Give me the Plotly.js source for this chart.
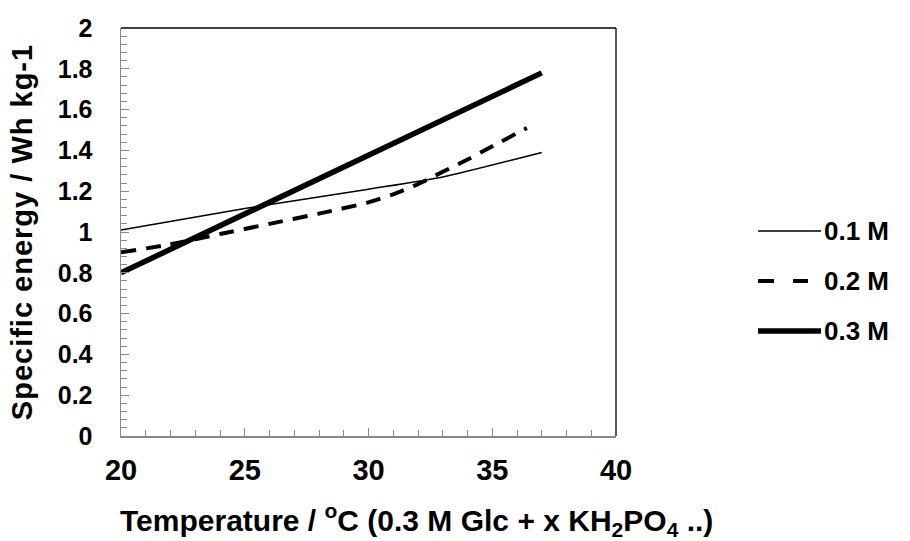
<!DOCTYPE html>
<html><head><meta charset="utf-8">
<script src="https://cdn.plot.ly/plotly-3.0.1.min.js"></script>
<style>html,body{margin:0;padding:0;background:#fff}#chart{width:910px;height:541px}
.g-ytitle text{letter-spacing:1px}
</style>
</head><body><div id="chart"></div>
<script>
const seriesNames = ['0.1 M', '0.2 M', '0.3 M'];
const temp01 = [20, 25, 30, 33, 37];
const energy01 = [1.01, 1.115, 1.21, 1.27, 1.39];
const temp02 = [20, 22, 24, 26, 28, 30, 31, 32, 33, 34, 35, 36.4];
const energy02 = [0.90, 0.94, 0.99, 1.04, 1.09, 1.145, 1.185, 1.235, 1.295, 1.355, 1.42, 1.51];
const temp03 = [20, 37];
const energy03 = [0.80, 1.78];
const xTicks = [20, 25, 30, 35, 40];
const yTicks = [0, 0.2, 0.4, 0.6, 0.8, 1, 1.2, 1.4, 1.6, 1.8, 2];
const xTitle = 'Temperature / <sup>o</sup>C (0.3 M Glc + x KH<sub>2</sub>PO<sub>4</sub> ..)';
const yTitle = 'Specific energy / Wh kg-1';

const fam = 'Liberation Sans, Arial, sans-serif';
const lineStyles = [
  {color: '#000', width: 1.5, shape: 'spline', smoothing: 0.6},
  {color: '#000', width: 4, dash: '15px,10px', shape: 'spline', smoothing: 0.6},
  {color: '#000', width: 5.5}
];
const legendDash = [null, '16px,19px', null];
const traces = [
  {x: temp01, y: energy01, name: seriesNames[0], mode: 'lines', line: lineStyles[0]},
  {x: temp02, y: energy02, name: seriesNames[1], mode: 'lines', line: lineStyles[1]},
  {x: temp03, y: energy03, name: seriesNames[2], mode: 'lines', line: lineStyles[2]}
];

// paper coords relative to plot area (x 121..616, y 28..436)
const px = v => (v - 121) / 495;
const py = v => (436 - v) / 408;
const legendY = [231, 281, 331];
const shapes = [
  {type: 'line', xref: 'paper', yref: 'paper', x0: 0, x1: 1, y0: 1, y1: 1, line: {color: '#000', width: 1.5}},
  {type: 'line', xref: 'paper', yref: 'paper', x0: 1, x1: 1, y0: 0, y1: 1, line: {color: '#222', width: 1.5}}
];
const annotations = [
  {xref: 'paper', yref: 'paper', x: px(416), y: py(520), xanchor: 'center', yanchor: 'middle', showarrow: false, text: xTitle, font: {family: fam, size: 30, weight: 'bold', color: '#000'}}
];
seriesNames.forEach((n, i) => {
  const ls = {color: lineStyles[i].color, width: lineStyles[i].width};
  if (legendDash[i]) ls.dash = legendDash[i];
  shapes.push({type: 'line', xref: 'paper', yref: 'paper', x0: px(758), x1: px(i === 1 ? 808 : 821), y0: py(legendY[i]), y1: py(legendY[i]), line: ls});
  annotations.push({xref: 'paper', yref: 'paper', x: px(822), y: py(legendY[i]), xanchor: 'left', yanchor: 'middle', showarrow: false, text: n, font: {family: fam, size: 26, weight: 'bold', color: '#000'}});
});

const layout = {
  width: 910, height: 541,
  margin: {l: 121, r: 294, t: 28, b: 105},
  paper_bgcolor: '#fff', plot_bgcolor: '#fff',
  font: {family: fam, color: '#000'},
  showlegend: false,
  xaxis: {
    range: [20, 40], tickvals: xTicks, ticktext: xTicks.map(String),
    ticks: 'inside', ticklen: 8, tickcolor: '#888', tickwidth: 1,
    minor: {dtick: 1, ticks: 'inside', ticklen: 6, tickcolor: '#888'},
    showline: true, linecolor: '#888', linewidth: 1.5, showgrid: false, zeroline: false,
    tickfont: {size: 29, weight: 'bold'}, ticklabelstandoff: 8
  },
  yaxis: {
    range: [0, 2], tickvals: yTicks, ticktext: yTicks.map(String),
    ticks: 'inside', ticklen: 8, tickcolor: '#888', tickwidth: 1,
    minor: {dtick: 0.04, ticks: 'inside', ticklen: 6, tickcolor: '#888'},
    showline: true, linecolor: '#888', linewidth: 1.5, showgrid: false, zeroline: false,
    tickfont: {size: 25, weight: 'bold'}, ticklabelstandoff: 22,
    title: {text: yTitle, font: {size: 29, weight: 'bold'}, standoff: 16}
  },
  shapes: shapes,
  annotations: annotations
};
Plotly.newPlot('chart', traces, layout, {displayModeBar: false, staticPlot: true});
</script></body></html>
